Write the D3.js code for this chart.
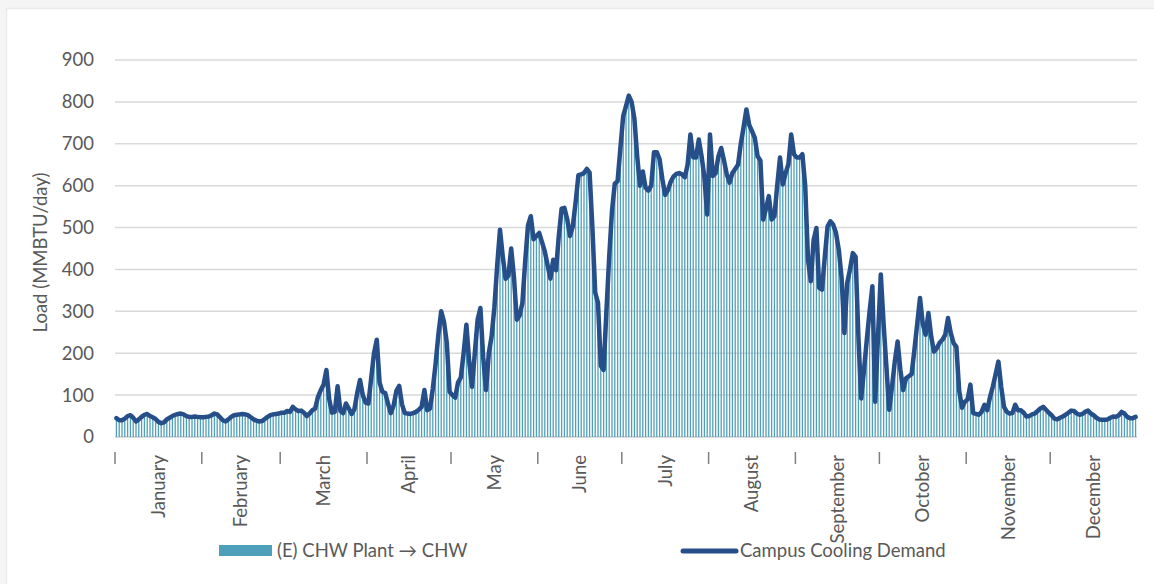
<!DOCTYPE html>
<html>
<head>
<meta charset="utf-8">
<script src="https://cdn.jsdelivr.net/npm/d3@7"></script>
<style>
  html, body { margin: 0; padding: 0; background: #f5f5f5; }
  svg { display: block; font-family: Lato, "Open Sans", sans-serif; }
</style>
</head>
<body>
<svg id="chart" width="1154" height="584"></svg>
<script>
// Month names shown along the category axis
const months = ["January", "February", "March", "April", "May", "June",
  "July", "August", "September", "October", "November", "December"];

// Y axis tick values (MMBTU/day)
const yTicks = [0, 100, 200, 300, 400, 500, 600, 700, 800, 900];

// Legend entries: [bar series, line series]
const seriesNames = ["(E) CHW Plant \u2192 CHW", "Campus Cooling Demand"];

// Daily chilled-water load, one row per month (MMBTU/day).
// The plant output to CHW meets campus cooling demand day for day,
// so the bars and the line are both drawn from these values.
const jan = [45,40,40,44,50,52,46,37,42,48,53,55,50,47,43,36,33,35,42,46,50,53,55,56,54,50,48,48,49,48,47];
const feb = [47,48,49,52,56,54,47,40,37,42,48,52,53,54,55,54,52,47,42,39,37,38,43,48,52,54,55,56];
const mar = [58,58,62,60,72,66,62,63,58,50,56,64,68,96,112,125,160,90,58,60,121,62,57,80,68,55,66,105,136,100,82];
const apr = [80,140,200,232,130,108,105,80,57,75,110,122,78,57,56,55,57,60,65,72,112,64,68,115,175,245,300,275,225,108];
const may = [100,94,130,142,200,268,180,120,200,280,308,190,112,200,240,310,410,495,430,378,385,450,380,280,290,320,420,505,527,472,480];
const jun = [487,465,443,410,378,423,398,480,545,547,520,480,503,560,625,627,630,640,631,500,345,320,170,160,300,430,540,605,611,690];
const jul = [766,790,815,800,760,670,600,634,595,588,600,680,680,663,615,578,590,610,622,628,630,627,620,650,722,668,667,710,670,620,531];
const aug = [722,623,630,670,690,660,627,607,630,640,650,700,740,782,745,730,714,670,660,519,545,575,519,527,600,667,603,630,651,722,675];
const sep = [667,667,675,600,423,372,470,499,356,352,430,503,515,507,487,447,380,248,368,400,439,430,240,92,160,232,300,360,84,240];
const oct = [388,270,168,65,120,180,228,160,112,140,145,150,208,270,332,270,244,296,240,204,212,225,232,244,284,248,224,215,110,70,84];
const nov = [90,125,57,55,53,60,77,64,95,120,150,180,120,72,60,56,57,77,64,64,58,49,50,54,56,62,68,72,65,58];
const dec = [52,44,42,46,49,53,58,63,62,56,53,55,60,63,56,52,46,42,41,41,42,46,49,48,52,60,56,48,45,45,48];

const monthly = [jan, feb, mar, apr, may, jun, jul, aug, sep, oct, nov, dec];
const dailyLoad = monthly.flat();

// Day index at which each month begins
const monthStart = [];
monthly.reduce((acc, m) => { monthStart.push(acc); return acc + m.length; }, 0);

const svg = d3.select("#chart");
const plot = { left: 115, right: 1137, top: 60, bottom: 437 };

const textColor = "#595959";
const gridColor = "#d9d9d9";
const barColor = "#4e9fba";
const lineColor = "#264e89";
const fontSize = "18.5px";

// Chart area with a soft edge against the page
svg.append("rect")
  .attr("x", 6.5).attr("y", 8.5)
  .attr("width", 1160).attr("height", 600)
  .attr("fill", "#ffffff")
  .attr("stroke", "#ebebeb").attr("stroke-width", 1.5);

const x = d3.scaleBand()
  .domain(d3.range(dailyLoad.length))
  .range([plot.left, plot.right])
  .paddingInner(0).paddingOuter(0);

const y = d3.scaleLinear()
  .domain([0, 900])
  .range([plot.bottom, plot.top]);

// Horizontal gridlines
svg.append("g")
  .selectAll("line")
  .data(yTicks)
  .join("line")
  .attr("x1", plot.left).attr("x2", plot.right)
  .attr("y1", d => y(d)).attr("y2", d => y(d))
  .attr("stroke", gridColor)
  .attr("stroke-width", d => d === 0 ? 2 : 1.5);

// Y axis labels
const yAxis = d3.axisLeft(y)
  .tickValues(yTicks)
  .tickSize(0)
  .tickPadding(21)
  .tickFormat(d3.format("d"));
const yg = svg.append("g")
  .attr("transform", `translate(${plot.left},0)`)
  .call(yAxis);
yg.select(".domain").remove();
yg.selectAll("text")
  .attr("fill", textColor)
  .style("font-size", fontSize)
  .style("font-family", "Lato, 'Open Sans', sans-serif");

// Y axis title
svg.append("text")
  .attr("transform", `translate(47,${(plot.top + plot.bottom) / 2 + 4}) rotate(-90)`)
  .attr("text-anchor", "middle")
  .attr("fill", textColor)
  .style("font-size", fontSize)
  .text("Load (MMBTU/day)");

// Bars: plant output to chilled water
const bw = x.bandwidth();
svg.append("g")
  .selectAll("rect")
  .data(dailyLoad)
  .join("rect")
  .attr("x", (d, i) => x(i) + bw * 0.27)
  .attr("width", bw * 0.46)
  .attr("y", d => y(d))
  .attr("height", d => y(0) - y(d))
  .attr("fill", barColor);

// Line: campus cooling demand
const line = d3.line()
  .x((d, i) => x(i) + bw / 2)
  .y(d => y(d));
svg.append("path")
  .datum(dailyLoad)
  .attr("d", line)
  .attr("fill", "none")
  .attr("stroke", lineColor)
  .attr("stroke-width", 4.5)
  .attr("stroke-linejoin", "round")
  .attr("stroke-linecap", "round");

// Month boundary marks
svg.append("g")
  .selectAll("line")
  .data(monthStart)
  .join("line")
  .attr("x1", d => x(d)).attr("x2", d => x(d))
  .attr("y1", 452).attr("y2", 464)
  .attr("stroke", "#7f7f7f")
  .attr("stroke-width", 1.5);

// Month labels, centred within each month
svg.append("g")
  .selectAll("text")
  .data(months)
  .join("text")
  .attr("transform", (m, i) => {
    const cx = x(monthStart[i]) + monthly[i].length * bw / 2;
    return `translate(${cx},455) rotate(-90)`;
  })
  .attr("text-anchor", "end")
  .attr("dy", "0.35em")
  .attr("fill", textColor)
  .style("font-size", fontSize)
  .text(d => d);

// Legend
const legend = svg.append("g");
legend.append("rect")
  .attr("x", 219).attr("y", 545)
  .attr("width", 53).attr("height", 11)
  .attr("fill", barColor);
legend.append("text")
  .attr("x", 277).attr("y", 551).attr("dy", "0.35em")
  .attr("fill", textColor)
  .style("font-size", fontSize)
  .text(seriesNames[0]);
legend.append("line")
  .attr("x1", 683).attr("x2", 736)
  .attr("y1", 551).attr("y2", 551)
  .attr("stroke", lineColor)
  .attr("stroke-width", 5)
  .attr("stroke-linecap", "round");
legend.append("text")
  .attr("x", 740).attr("y", 551).attr("dy", "0.35em")
  .attr("fill", textColor)
  .style("font-size", fontSize)
  .text(seriesNames[1]);
</script>
</body>
</html>
